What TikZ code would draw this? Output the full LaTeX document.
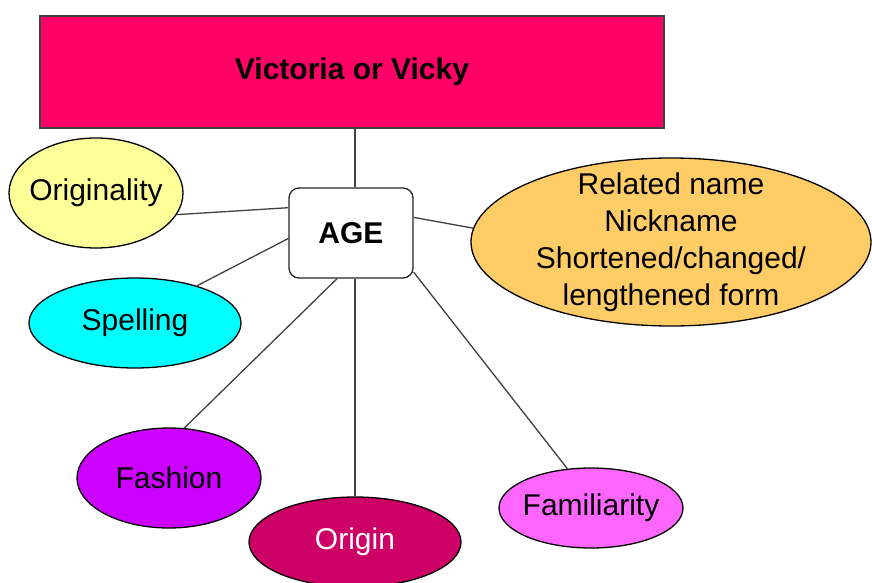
\documentclass[tikz,border=0pt]{standalone}
\usepackage{fontspec}
\setmainfont{Liberation Sans}
\usetikzlibrary{shapes.geometric}

\begin{document}
\begin{tikzpicture}[x=1pt, y=-1pt,
  every node/.style={font=\fontsize{30}{37}\selectfont, align=center, inner sep=0pt},
  title/.style={draw=black!75, line width=1.2pt, fill=magentared, minimum width=624pt, minimum height=112pt, font=\fontsize{30}{37}\selectfont\bfseries},
  hub/.style={draw=black!85, line width=1.3pt, fill=white, rounded corners=10pt, minimum width=124pt, minimum height=90pt, font=\fontsize{30}{37}\selectfont\bfseries},
  idea/.style={draw=black, line width=1.3pt, ellipse, inner sep=-16pt},
  link/.style={draw=black!75, line width=1.3pt}
]
\definecolor{magentared}{HTML}{FF0066}
\definecolor{paleyellow}{HTML}{FFFF99}
\definecolor{brightcyan}{HTML}{00FFFF}
\definecolor{lightorange}{HTML}{FFCC66}
\definecolor{violet}{HTML}{CC00FF}
\definecolor{crimson}{HTML}{CC0066}
\definecolor{pinkish}{HTML}{FF66FF}
\useasboundingbox (0,0) rectangle (872,583);
\node[title] (name) at (352,72) {Victoria or Vicky};
\node[hub] (age) at (351,233) {AGE};
\node[idea, fill=paleyellow, minimum width=174pt, minimum height=110pt] (originality) at (96,193) {Originality};
\node[idea, fill=brightcyan, minimum width=212pt, minimum height=90pt] (spelling) at (135,323) {Spelling};
\node[idea, fill=lightorange, minimum width=400pt, minimum height=168pt] (related) at (671,242) {Related name\\Nickname\\Shortened/changed/\\lengthened form};
\node[idea, fill=violet, minimum width=184pt, minimum height=100pt] (fashion) at (169,478) {Fashion};
\node[idea, fill=crimson, text=white, minimum width=212pt, minimum height=90pt] (origin) at (355,542) {Origin};
\node[idea, fill=pinkish, minimum width=184pt, minimum height=80pt] (familiarity) at (591,508) {Familiarity};
\draw[link] (origin.north |- age.north) -- (origin.north |- name.south);
\draw[link] (age.158) -- (originality.-15);
\draw[link] (age.185) -- (spelling.31);
\draw[link] (age.14) -- (related.176);
\draw[link] (age.253) -- (fashion.73);
\draw[link] (origin.north |- age.south) -- (origin.north);
\draw[link] (age.-32) -- (familiarity.121);
\end{tikzpicture}
\end{document}
